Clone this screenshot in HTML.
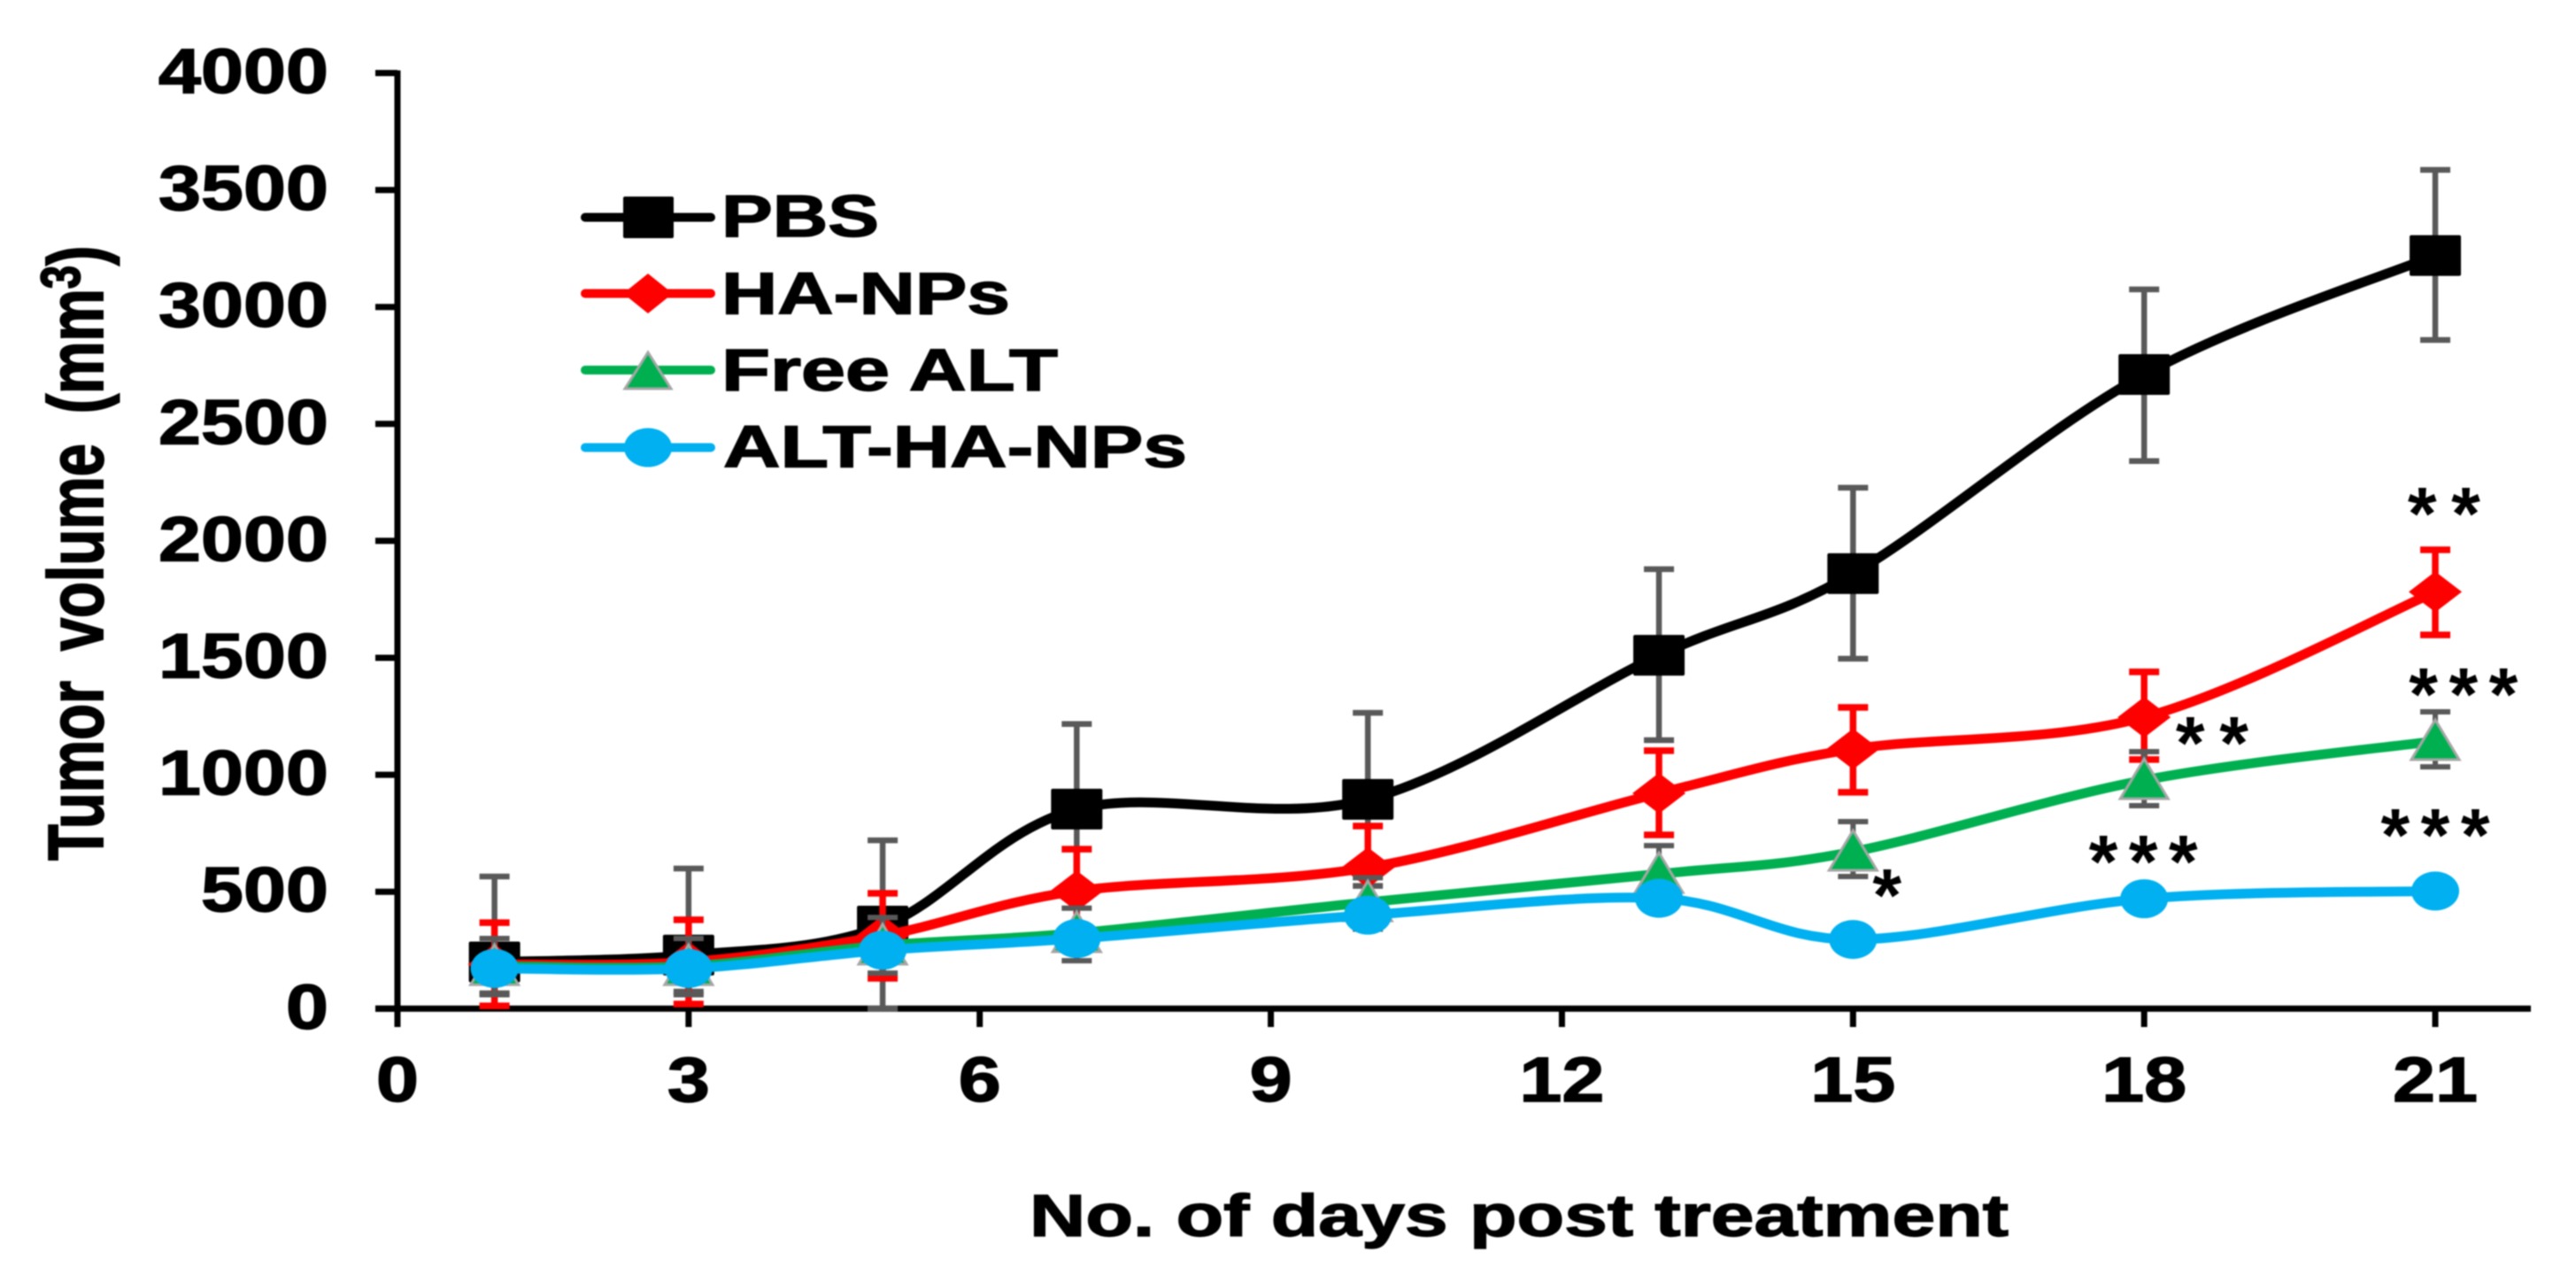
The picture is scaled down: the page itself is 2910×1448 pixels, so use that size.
<!DOCTYPE html>
<html lang="en">
<head>
<meta charset="utf-8">
<title>Tumor volume chart</title>
<style>
html,body{margin:0;padding:0;background:#fff;width:2910px;height:1448px;overflow:hidden}
svg{display:block;filter:blur(0.8px)}
text{font-family:"Liberation Sans",sans-serif;font-weight:bold;fill:#000;stroke:#000;stroke-width:1.4px}
text.stars{stroke-width:0}
</style>
</head>
<body>
<svg id="chart" xmlns="http://www.w3.org/2000/svg" width="2910" height="1448" viewBox="0 0 2910 1448">
  <rect x="0" y="0" width="2910" height="1448" fill="#ffffff"/>
  <g id="axes"></g>
  <g id="plot"></g>
  <text x="1163" y="1396" font-size="67" textLength="1106" lengthAdjust="spacingAndGlyphs">No. of days post treatment</text>
  <text transform="translate(116,972) rotate(-90) scale(0.76,1)" font-size="88" word-spacing="20" style="stroke-width:2px">Tumor volume (mm<tspan dy="-26" font-size="62">3</tspan><tspan dy="26">)</tspan></text>
  <g>
    <g>
      <line x1="661" x2="803" y1="245.5" y2="245.5" stroke="#000000" stroke-width="10" stroke-linecap="round"/>
      <rect x="704" y="222" width="57" height="47" rx="2" fill="#000000"/>
      <text x="815" y="267" font-size="67" textLength="178" lengthAdjust="spacingAndGlyphs">PBS</text>
    </g>
    <g>
      <line x1="661" x2="803" y1="331.5" y2="331.5" stroke="#ff0000" stroke-width="10" stroke-linecap="round"/>
      <polygon points="732,309 760,331.5 732,354 704,331.5" fill="#ff0000"/>
      <text x="815" y="354.5" font-size="67" textLength="326" lengthAdjust="spacingAndGlyphs">HA-NPs</text>
    </g>
    <g>
      <line x1="661" x2="803" y1="418" y2="418" stroke="#00b050" stroke-width="10" stroke-linecap="round"/>
      <polygon points="732,398 758,439 706,439" fill="#00b050" stroke="#a6a6a6" stroke-width="3"/>
      <text x="815" y="441" font-size="67" textLength="380" lengthAdjust="spacingAndGlyphs">Free ALT</text>
    </g>
    <g>
      <line x1="661" x2="803" y1="505.5" y2="505.5" stroke="#00b0f0" stroke-width="10" stroke-linecap="round"/>
      <ellipse cx="732" cy="505.5" rx="27" ry="22" fill="#00b0f0"/>
      <text x="817" y="527.5" font-size="67" textLength="524" lengthAdjust="spacingAndGlyphs">ALT-HA-NPs</text>
    </g>
  </g>
</svg>
<script>
const days = [1, 3, 5, 7, 10, 13, 15, 18, 21];
const pbsValues = [200, 229, 353, 853, 895, 1511, 1860, 2711, 3220];
const pbsHigh = [565, 599, 720, 1217, 1265, 1879, 2227, 3075, 3586];
const pbsLow = [66, 73, 0, 489, 525, 1148, 1496, 2341, 2859];
const haValues = [190, 200, 312, 503, 603, 921, 1110, 1246, 1782];
const haHigh = [368, 380, 493, 682, 781, 1103, 1288, 1440, 1962];
const haLow = [12, 20, 130, 323, 425, 743, 925, 1065, 1598];
const freeValues = [182, 182, 270, 323, 455, 576, 671, 977, 1144];
const freeHigh = [300, 300, 390, 430, 560, 697, 800, 1099, 1269];
const freeLow = [60, 60, 152, 205, 340, 455, 565, 868, 1034];
const altValues = [172, 172, 250, 300, 400, 472, 296, 470, 503];
const xTickValues = [0, 3, 6, 9, 12, 15, 18, 21];
const yTickValues = [0, 500, 1000, 1500, 2000, 2500, 3000, 3500, 4000];
const starLabels = ['**', '***', '**', '*', '***', '***'];
const starDays = [21.09, 21.29, 18.70, 15.35, 17.99, 21.0];
const starValues = [2121, 1349, 1140, 489, 633, 747];

const NS = 'http://www.w3.org/2000/svg';
const xScale = d => 449 + d * 109.62;
const yScale = v => 1139.3 - v * 0.2642;
const axesGroup = document.getElementById('axes');
const plotGroup = document.getElementById('plot');

function make(parent, tag, attrs, textContent) {
  const node = document.createElementNS(NS, tag);
  for (const key in attrs) node.setAttribute(key, attrs[key]);
  if (textContent !== undefined) node.textContent = textContent;
  parent.appendChild(node);
  return node;
}

function smoothPath(xs, ys) {
  let d = 'M' + xs[0] + ' ' + ys[0];
  for (let i = 0; i < xs.length - 1; i++) {
    const p0 = Math.max(i - 1, 0), p3 = Math.min(i + 2, xs.length - 1);
    const c1x = xs[i] + (xs[i + 1] - xs[p0]) / 6;
    const c1y = ys[i] + (ys[i + 1] - ys[p0]) / 6;
    const c2x = xs[i + 1] - (xs[p3] - xs[i]) / 6;
    const c2y = ys[i + 1] - (ys[p3] - ys[i]) / 6;
    d += ' C' + c1x + ' ' + c1y + ' ' + c2x + ' ' + c2y + ' ' + xs[i + 1] + ' ' + ys[i + 1];
  }
  return d;
}

// Axes
const yAxisLine = make(axesGroup, 'line', {x1: xScale(0), x2: xScale(0), y1: yScale(4000) - 3, y2: 1160, stroke: '#000', 'stroke-width': 7});


const xAxisLine = make(axesGroup, 'line', {x1: 424, x2: 2859, y1: yScale(0), y2: yScale(0), stroke: '#000', 'stroke-width': 7});



yTickValues.forEach(v => {
  const tick = make(axesGroup, 'line', {x1: 424, x2: xScale(0), y1: yScale(v), y2: yScale(v), stroke: '#000', 'stroke-width': 7});
  
  
  const label = make(axesGroup, 'text', {
    x: 371, y: yScale(v) + 22.5, 'font-size': 71, 'text-anchor': 'end',
    textLength: String(v).length * 48, lengthAdjust: 'spacingAndGlyphs'
  }, String(v));
  
  
});

xTickValues.forEach(d => {
  const tick = make(axesGroup, 'line', {x1: xScale(d), x2: xScale(d), y1: yScale(0), y2: 1160, stroke: '#000', 'stroke-width': 7});
  
  
  const label = make(axesGroup, 'text', {
    x: xScale(d), y: 1244, 'font-size': 71, 'text-anchor': 'middle',
    textLength: String(d).length * 48, lengthAdjust: 'spacingAndGlyphs'
  }, String(d));
  
  
});

// Marker drawing
function squareMarker(parent, x, y) {
  return make(parent, 'rect', {x: x - 29, y: y - 23, width: 58, height: 46, rx: 2, fill: '#000000'});
}
function diamondMarker(parent, x, y) {
  return make(parent, 'polygon', {points: `${x},${y - 23} ${x + 30},${y} ${x},${y + 23} ${x - 30},${y}`, fill: '#ff0000'});
}
function triangleMarker(parent, x, y) {
  return make(parent, 'polygon', {points: `${x},${y - 24} ${x + 27},${y + 21} ${x - 27},${y + 21}`, fill: '#00b050', stroke: '#a6a6a6', 'stroke-width': 3});
}
function circleMarker(parent, x, y) {
  return make(parent, 'ellipse', {cx: x, cy: y, rx: 27, ry: 22, fill: '#00b0f0'});
}

function drawSeries(key, values, high, low, color, errColor, errWidth, marker) {
  const group = make(plotGroup, 'g', {});
  
  
  const xs = days.map(xScale);
  const ys = values.map(yScale);
  if (high && low) {
    days.forEach((d, i) => {
      const x = xScale(d), top = yScale(high[i]), bottom = yScale(low[i]);
      const err = make(group, 'path', {
        d: `M${x} ${top}V${bottom}M${x - 17} ${top}H${x + 17}M${x - 17} ${bottom}H${x + 17}`,
        fill: 'none', stroke: errColor, 'stroke-width': errWidth
      });
      
      
    });
  }
  const path = make(group, 'path', {d: smoothPath(xs, ys), fill: 'none', stroke: color, 'stroke-width': 11, 'stroke-linejoin': 'round'});
  
  
  days.forEach((d, i) => {
    const point = marker(group, xs[i], ys[i]);
    
    
  });
}

drawSeries('pbs', pbsValues, pbsHigh, pbsLow, '#000000', '#595959', 6.5, squareMarker);
drawSeries('ha-nps', haValues, haHigh, haLow, '#ff0000', '#ff0000', 7.5, diamondMarker);
drawSeries('free-alt', freeValues, freeHigh, freeLow, '#00b050', '#595959', 6, triangleMarker);
drawSeries('alt-ha-nps', altValues, null, null, '#00b0f0', '#00b0f0', 6, circleMarker);

// Significance stars: value gives the bottom of the glyph
starLabels.forEach((s, i) => {
  const star = make(plotGroup, 'text', {
    x: xScale(starDays[i]), y: yScale(starValues[i]) + 30, 'font-size': 84, 'text-anchor': 'middle',
    textLength: s.length * 41, lengthAdjust: 'spacing', class: 'stars'
  }, s);
  
  
});
</script>
</body>
</html>
